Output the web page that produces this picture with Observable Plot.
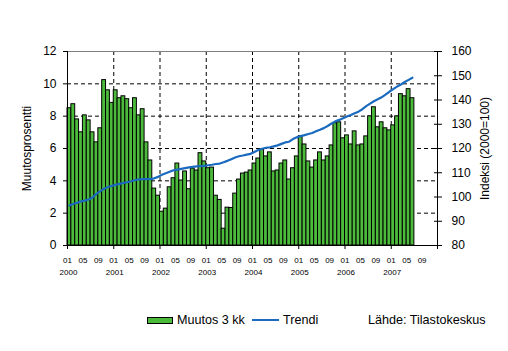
<!DOCTYPE html>
<html><head><meta charset="utf-8">
<script src="https://cdn.jsdelivr.net/npm/d3@7"></script>
<script src="https://cdn.jsdelivr.net/npm/@observablehq/plot@0.6"></script>
<style>
body{margin:0;background:#fff;font-family:"Liberation Sans",Arial,sans-serif;}
#wrap{position:relative;width:508px;height:351px;overflow:hidden;}
#wrap svg{display:block;}
.leg{position:absolute;font-size:12.6px;color:#000;white-space:nowrap;line-height:1;}
.sw{position:absolute;box-sizing:border-box;}
</style></head><body><div id="wrap"></div>
<script>
// Muutos 3 kk (%), monthly 2000-01 .. 2007-06
const muutos = [
  8.49, 8.74, 7.80, 7.00, 8.05, 7.74, 7.00, 6.38, 7.25, 10.23, 9.60, 8.82,
  9.60, 9.11, 9.23, 9.05, 8.49, 9.11, 8.05, 8.43, 6.38, 5.26, 3.52, 3.08,
  2.09, 2.28, 3.60, 4.16, 5.07, 4.02, 4.58, 3.48, 4.76, 4.64, 5.71, 5.20,
  4.78, 4.82, 3.08, 2.82, 1.04, 2.34, 2.32, 3.21, 4.08, 4.45, 4.51, 4.64,
  5.07, 5.38, 5.94, 5.51, 5.76, 4.58, 4.64, 5.07, 5.26, 4.08, 4.78, 5.51,
  6.75, 6.25, 5.20, 4.82, 5.26, 5.76, 5.26, 5.51, 6.19, 7.56, 7.62, 6.63,
  6.81, 6.25, 7.06, 6.19, 6.25, 6.75, 7.99, 8.55, 7.31, 7.62, 7.25, 7.12,
  7.43, 7.99, 9.36, 9.23, 9.67, 9.11
];
// Trendi (indeksi 2000=100)
const trendi = [
  96.5, 97.1, 97.6, 98.2, 98.5, 99.0, 99.8, 101.3, 102.4, 103.4, 104.1, 104.6,
  105.0, 105.4, 105.8, 106.1, 106.5, 106.9, 107.3, 107.4, 107.4, 107.4, 107.7, 108.3,
  109.2, 109.8, 110.4, 111.0, 111.3, 111.6, 111.9, 112.2, 112.4, 112.6, 112.7, 112.8,
  113.1, 113.3, 113.6, 113.8, 114.3, 114.9, 115.6, 116.3, 116.8, 117.1, 117.5, 117.8,
  118.6, 119.4, 119.9, 120.3, 120.5, 120.9, 121.3, 121.9, 122.5, 122.8, 123.9, 124.6,
  125.1, 125.5, 126.0, 126.4, 127.1, 127.7, 128.4, 129.3, 130.3, 131.2, 131.8, 132.5,
  133.2, 133.8, 134.5, 135.2, 136.2, 137.5, 138.5, 139.5, 140.3, 141.1, 142.2, 143.4,
  144.5, 145.5, 146.4, 147.4, 148.3, 149.2
];
const monthLabels = ["01", "05", "09"];
const yearLabels = ["2000", "2001", "2002", "2003", "2004", "2005", "2006", "2007"];
const leftTicks = [0, 2, 4, 6, 8, 10, 12];
const rightTicks = [80, 90, 100, 110, 120, 130, 140, 150, 160];
const gridLeft = [2, 4, 6, 8, 10];
const leftTitle = "Muutosprosentti";
const rightTitle = "Indeksi (2000=100)";
const GREEN = "#4cbb3c", BLUE = "#1a6bbf";
const FONT = "'Liberation Sans', Arial, sans-serif";

const rows = muutos.map((v, i) => ({m: i, v, t: trendi[i]}));
const nMonths = yearLabels.length * 12; // 96
const toLeft = idx => (idx - 80) * 12 / 80;
const fromLeft = y => Math.round(y * 80 / 12 + 80);
const monthTicks = d3.range(0, nMonths - 3, 4);
const yearStarts = d3.range(0, nMonths, 12);
const yearBounds = d3.range(0, nMonths + 1, 12);
const innerYears = d3.range(12, nMonths, 12);

const chart = Plot.plot({
  width: 508, height: 300,
  marginLeft: 67, marginRight: 71, marginTop: 51, marginBottom: 55,
  x: {type: "linear", domain: [0, nMonths]},
  y: {domain: [0, 12]},
  style: {fontFamily: FONT, fontSize: "12px", color: "black", background: "white"},
  marks: [
    Plot.gridY(gridLeft, {stroke: "black", strokeOpacity: 1, strokeDasharray: "4,3"}),
    Plot.gridX(innerYears, {stroke: "black", strokeOpacity: 1, strokeDasharray: "4,3"}),
    Plot.rectY(rows, {x1: "m", x2: d => d.m + 1, y: "v", fill: GREEN, stroke: "black", strokeWidth: 1}),
    Plot.line(rows, {x: d => d.m + 0.5, y: d => toLeft(d.t), stroke: BLUE, strokeWidth: 2.2}),
    Plot.ruleY([12], {stroke: "#808080"}),
    Plot.ruleY([0], {stroke: "black"}),
    Plot.ruleX([0], {stroke: "black"}),
    Plot.ruleX([nMonths], {stroke: "black"}),
    Plot.axisY(leftTicks, {anchor: "left", tickSize: 4, tickPadding: 7, fontSize: 12,
      label: leftTitle, labelAnchor: "center", labelOffset: 45, labelArrow: "none"}),
    Plot.axisY(rightTicks.map(toLeft), {anchor: "right", tickSize: 8, dx: -4, tickFormat: () => "", label: null}),
    Plot.axisY(rightTicks.map(toLeft), {anchor: "right", tickSize: 0, tickPadding: 14, tickFormat: d => String(fromLeft(d)), fontSize: 12,
      label: rightTitle, labelAnchor: "center", labelOffset: 51, labelArrow: "none"}),
    Plot.axisX(yearBounds, {anchor: "bottom", tickSize: 4, tickFormat: () => "", label: null}),
    Plot.axisX(monthTicks, {anchor: "bottom", tickSize: 0, tickPadding: 12, tickFormat: m => monthLabels[(m % 12) / 4], fontSize: 8, label: null}),
    Plot.axisX(yearStarts, {anchor: "bottom", tickSize: 0, tickPadding: 24, dx: 1, tickFormat: m => yearLabels[m / 12], fontSize: 8, label: null})
  ]
});
const wrap = document.getElementById("wrap");
wrap.appendChild(chart);

function addEl(cls, css, text) {
  const el = document.createElement("div");
  el.className = cls;
  Object.assign(el.style, css);
  if (text) el.textContent = text;
  wrap.appendChild(el);
}
addEl("sw", {left: "147px", top: "317px", width: "26px", height: "7px", background: GREEN, border: "1px solid black"});
addEl("leg", {left: "177px", top: "314px"}, "Muutos 3 kk");
addEl("sw", {left: "252px", top: "319px", width: "27px", height: "2px", background: BLUE});
addEl("leg", {left: "283px", top: "314px"}, "Trendi");
addEl("leg", {left: "368px", top: "314px"}, "Lähde: Tilastokeskus");
</script>
</body></html>
